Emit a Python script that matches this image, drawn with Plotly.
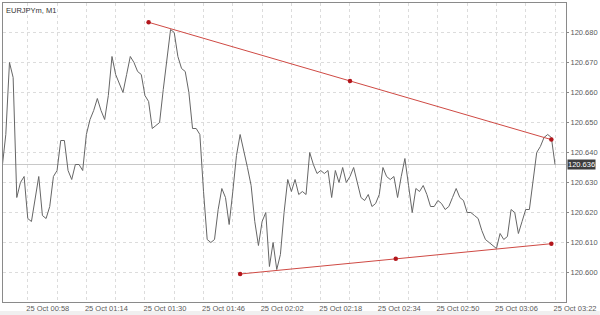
import pandas as pd
import plotly.graph_objects as go

symbol_title = "EURJPYm, M1"
start_time = "2023-10-25 00:51"
close_prices = [
    120.635, 120.646, 120.670, 120.665, 120.625, 120.630, 120.632, 120.618, 120.617, 120.624,
    120.632, 120.619, 120.618, 120.622, 120.632, 120.634, 120.644, 120.644, 120.634, 120.631,
    120.636, 120.636, 120.634, 120.646, 120.651, 120.654, 120.658, 120.654, 120.651, 120.659,
    120.672, 120.666, 120.663, 120.660, 120.666, 120.672, 120.670, 120.667, 120.666, 120.659,
    120.657, 120.648, 120.649, 120.650, 120.661, 120.672, 120.681, 120.680, 120.672, 120.668,
    120.667, 120.660, 120.648, 120.648, 120.646, 120.627, 120.611, 120.610, 120.611, 120.621,
    120.628, 120.625, 120.616, 120.627, 120.639, 120.646, 120.641, 120.635, 120.629, 120.617,
    120.609, 120.617, 120.620, 120.602, 120.610, 120.601, 120.606, 120.620, 120.631, 120.627,
    120.631, 120.626, 120.627, 120.626, 120.640, 120.636, 120.633, 120.634, 120.633, 120.634,
    120.625, 120.634, 120.630, 120.635, 120.630, 120.632, 120.635, 120.630, 120.625, 120.624,
    120.626, 120.622, 120.623, 120.626, 120.635, 120.632, 120.631, 120.632, 120.625, 120.632,
    120.638, 120.629, 120.620, 120.628, 120.627, 120.629, 120.626, 120.622, 120.622, 120.624,
    120.623, 120.621, 120.622, 120.625, 120.628, 120.625, 120.624, 120.620, 120.620, 120.619,
    120.618, 120.614, 120.611, 120.610, 120.609, 120.608, 120.613, 120.611, 120.612, 120.621,
    120.620, 120.613, 120.617, 120.621, 120.621, 120.631, 120.640, 120.642, 120.645, 120.646,
    120.645, 120.636,
]
upper_trend_times = ["2023-10-25 01:31", "2023-10-25 03:21"]
upper_trend_prices = [120.6834, 120.6443]
lower_trend_times = ["2023-10-25 01:56", "2023-10-25 03:21"]
lower_trend_prices = [120.5995, 120.6096]
price_ticks = [120.600, 120.610, 120.620, 120.630, 120.640, 120.650, 120.660, 120.670, 120.680]
x_range = ["2023-10-25 00:51:14", "2023-10-25 03:25:00"]
y_range = [120.59017, 120.68983]

times = pd.date_range(start_time, periods=len(close_prices), freq="min")
last_price = close_prices[-1]


def with_mid(ts, ps):
    t = pd.to_datetime(ts)
    mid_t = t[0] + (t[1] - t[0]) / 2
    return [t[0], mid_t, t[1]], [ps[0], (ps[0] + ps[1]) / 2, ps[1]]


fig = go.Figure()
fig.add_trace(go.Scatter(x=times, y=close_prices, mode="lines",
                         line=dict(color="#666666", width=1), hoverinfo="skip"))
for ts, ps in [(upper_trend_times, upper_trend_prices), (lower_trend_times, lower_trend_prices)]:
    tx, py = with_mid(ts, ps)
    fig.add_trace(go.Scatter(x=tx, y=py, mode="lines+markers",
                             line=dict(color="#cf4a44", width=1),
                             marker=dict(color="#b3161c", size=4.5, symbol="circle"),
                             hoverinfo="skip"))

font = "Liberation Sans, Arial, sans-serif"
fig.update_layout(
    width=600, height=315,
    margin=dict(l=2, r=30, t=3, b=13),
    paper_bgcolor="white", plot_bgcolor="white",
    showlegend=False,
    font=dict(family=font, size=7.5, color="#555555"),
    xaxis=dict(
        type="date", range=x_range,
        tick0="2023-10-25 00:58", dtick=16 * 60000,
        tickformat="%d %b %H:%M",
        showgrid=True, gridcolor="#dcdcdc", griddash="dot", gridwidth=1,
        minor=dict(dtick=8 * 60000, tick0="2023-10-25 00:58", showgrid=True,
                   gridcolor="#dcdcdc", griddash="dot"),
        showline=True, linecolor="#8a8a8a", linewidth=1, mirror=True,
        ticks="", zeroline=False,
        ticklabelshift=20, ticklabelstandoff=-1,
        tickfont=dict(size=7.5, color="#5a5a5a"),
    ),
    yaxis=dict(
        side="right", range=y_range,
        tickvals=price_ticks, tickformat=".3f",
        showgrid=True, gridcolor="#dcdcdc", griddash="dot", gridwidth=1,
        showline=True, linecolor="#8a8a8a", linewidth=1, mirror=True,
        ticks="outside", ticklen=2, tickcolor="#8a8a8a",
        ticklabelstandoff=0, zeroline=False,
        tickfont=dict(size=7.5, color="#5a5a5a"),
    ),
    shapes=[
        dict(type="line", xref="paper", x0=0, x1=1, yref="y", y0=last_price, y1=last_price,
             line=dict(color="#c8c8c8", width=1), layer="below"),
        dict(type="rect", xref="paper", x0=-0.01, x1=1.06, yref="paper", y0=-0.06, y1=-0.0301,
             fillcolor="#f0f0f0", line=dict(width=0), layer="below"),
    ],
    annotations=[
        dict(text=symbol_title, xref="paper", yref="paper", x=0.002, y=0.998,
             xanchor="left", yanchor="top", showarrow=False,
             font=dict(size=7.5, color="#333333")),
        dict(text=f"{last_price:.3f}", xref="paper", yref="y", x=1.0015, y=last_price,
             xanchor="left", yanchor="middle", showarrow=False, bgcolor="#3d3d3d",
             borderpad=0, font=dict(size=7.5, color="#ffffff")),
    ],
)

fig.write_html("out.html")
